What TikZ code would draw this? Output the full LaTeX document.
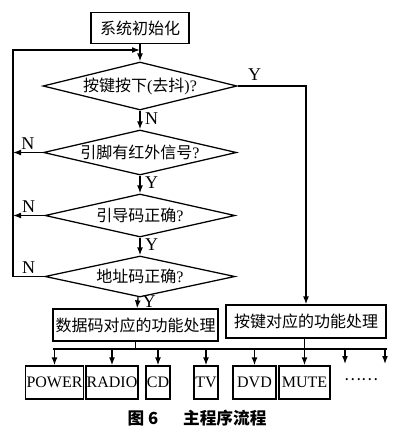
\documentclass[tikz,border=0pt]{standalone}
\usepackage{fontspec}
\setmainfont{Liberation Serif}
\newfontfamily\cjk{Noto Sans CJK SC}
\usetikzlibrary{shapes.geometric, positioning, arrows.meta, calc}

\begin{document}
\begin{tikzpicture}[x=0.75pt,y=-0.75pt,-,auto,line width=0.95pt,
                    >={Latex[length=6pt,width=4.4pt]},
                    every node/.style={font=\fontsize{12}{14}\selectfont},
                    box node/.style={rectangle,draw,inner sep=1pt},
                    test node/.style={diamond,draw,inner sep=0pt},
                    key node/.style={rectangle,draw,inner xsep=0.5pt,minimum height=24.75pt},
                    yn/.style={font=\fontsize{13.5}{15}\selectfont}]

  \useasboundingbox (0,0) rectangle (400,435);

  \node[box node,minimum width=73.5pt,minimum height=23.25pt] (init) at (140,28) {\cjk 系统初始化};

  \node[test node,minimum width=145.5pt,minimum height=36pt,
        label=center:{{\cjk 按键按下}({\cjk 去抖})?}] (d1) at (140,86) {};
  \node[test node,minimum width=144.75pt,minimum height=33.75pt,
        label=center:{{\cjk 引脚有红外信号}?}] (d2) at (140,152.5) {};
  \node[test node,minimum width=142.5pt,minimum height=32.25pt,
        label=center:{{\cjk 引导码正确}?}] (d3) at (140,215.5) {};
  \node[test node,minimum width=142.5pt,minimum height=30.75pt,
        label=center:{{\cjk 地址码正确}?}] (d4) at (140,276.5) {};

  \node[box node,minimum width=123.75pt,minimum height=24pt] (data) at (135.5,325) {\cjk 数据码对应的功能处理};
  \node[box node,minimum width=120pt,minimum height=24.75pt] (keys) at (306,321.5) {\cjk 按键对应的功能处理};

  % output boxes
  \node[key node,minimum width=42.75pt] (POWER) at (54.5,382.5) {POWER};
  \node[key node,minimum width=37.5pt] (RADIO) at (112,382.5) {RADIO};
  \node[key node,minimum width=18pt] (CD) at (158,382.5) {CD};
  \node[key node,minimum width=18pt] (TV) at (206,382.5) {TV};
  \node[key node,minimum width=32.25pt] (DVD) at (254.5,382.5) {DVD};
  \node[key node,minimum width=38.25pt] (MUTE) at (304.5,382.5) {MUTE};
  \node (more) at (361,380) {\cjk ……};

  \node[font=\fontsize{12.5}{14}\selectfont] (cap) at (197,418) {\cjk\bfseries 图\ 6\quad\enspace 主程序流程};

  \coordinate (lp) at (13,50);
  \coordinate (bL) at (53,349);
  \coordinate (bR) at (387,349);
  \coordinate (e1) at (345,364);
  \coordinate (e2) at (385,364);

  \draw[->] (init) -- (d1);
  \draw[->] (d1) -- node[yn,right,pos=0.4]{N} (d2);
  \draw[->] (d2) -- node[yn,right,pos=0.4]{Y} (d3);
  \draw[->] (d3) -- node[yn,right,pos=0.4]{Y} (d4);
  \draw[->] (d4) -- node[yn,right,pos=0.4]{Y} (data);

  \draw[->] (d1.east) -- node[yn,above,pos=0.25]{Y} (d1.east -| keys.north) -- (keys.north);

  \draw[->] (d2.west) -- node[yn,above=-1.5pt]{N} (d2.west -| lp);
  \draw[->] (d3.west) -- node[yn,above=-1.5pt]{N} (d3.west -| lp);
  \draw[->] (d4.west) -- node[yn,above=-1.5pt]{N} (d4.west -| lp) -- (lp) -- (init.south |- lp);

  % bus to the keys
  \draw (data) -- (data.south |- bL);
  \draw (bL) -- (bR);
  \foreach \k in {POWER,RADIO,CD,TV,DVD}
    \draw[->] (\k.north |- bL) -- (\k.north);
  \draw[->] (keys.south -| MUTE.north) -- (MUTE.north);
  \draw[->] (e1 |- bL) -- (e1);
  \draw[->] (e2 |- bL) -- (e2);

\end{tikzpicture}
\end{document}
